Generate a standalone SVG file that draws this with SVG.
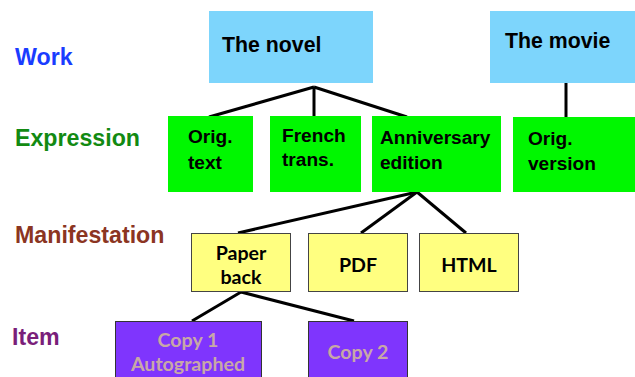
<svg xmlns="http://www.w3.org/2000/svg" width="635" height="377" viewBox="0 0 635 377">
<style>
.lvl{font-family:"Liberation Sans",Arial,sans-serif;font-weight:bold;font-size:23.2px}
.big{font-family:"Liberation Sans",Arial,sans-serif;font-weight:bold;font-size:21.3px;fill:#000}
.mid{font-family:"Liberation Sans",Arial,sans-serif;font-weight:bold;font-size:19.1px;fill:#000}
.cal{font-family:Lato,"Open Sans",sans-serif;font-weight:bold;font-size:19.6px;text-anchor:middle}
.work{fill:#7dd5fc}
.expr{fill:#00f700}
.man{fill:#ffff80;stroke:#444;stroke-width:1}
.item{fill:#7f35fd;stroke:#333;stroke-width:1}
.conn line{stroke:#000;stroke-width:3;stroke-linecap:butt}
</style>
<g id="labels">
<text class="lvl" x="15" y="65" fill="#1a3cff">Work</text>
<text class="lvl" x="15" y="146" fill="#128a12">Expression</text>
<text class="lvl" x="15" y="243" fill="#8b3522">Manifestation</text>
<text class="lvl" x="12" y="345" fill="#7a1e7a">Item</text>
</g>
<g class="conn" id="connectors">
<line x1="314" y1="87" x2="209" y2="117"/>
<line x1="314" y1="87" x2="314" y2="116"/>
<line x1="314" y1="87" x2="407" y2="117"/>
<line x1="566" y1="83" x2="566" y2="117"/>
<line x1="417" y1="192" x2="238" y2="233"/>
<line x1="417" y1="192" x2="361" y2="233"/>
<line x1="417" y1="192" x2="466" y2="233"/>
<line x1="241" y1="292" x2="192" y2="321"/>
<line x1="241" y1="292" x2="354" y2="321"/>
</g>
<g id="novel"><rect class="work" x="209" y="11" width="164" height="72"/><text class="big" x="222" y="52">The novel</text></g>
<g id="movie"><rect class="work" x="490" y="11" width="145" height="72"/><text class="big" x="505" y="48">The movie</text></g>
<g id="origtext"><rect class="expr" x="168" y="116" width="85" height="76"/><text class="mid" x="188" y="143">Orig.</text><text class="mid" x="188" y="169">text</text></g>
<g id="french"><rect class="expr" x="270" y="116" width="91" height="76"/><text class="mid" x="282" y="142">French</text><text class="mid" x="282" y="166">trans.</text></g>
<g id="anniv"><rect class="expr" x="372" y="116" width="129" height="76"/><text class="mid" x="380" y="144">Anniversary</text><text class="mid" x="380" y="169">edition</text></g>
<g id="origversion"><rect class="expr" x="513" y="117" width="122" height="75"/><text class="mid" x="528" y="145">Orig.</text><text class="mid" x="528" y="170">version</text></g>
<g id="paperback"><rect class="man" x="191.5" y="233.5" width="99" height="58"/><text class="cal" x="241" y="260" fill="#000">Paper</text><text class="cal" x="241" y="284" fill="#000">back</text></g>
<g id="pdf"><rect class="man" x="308.5" y="233.5" width="99" height="58"/><text class="cal" x="358" y="272" fill="#000">PDF</text></g>
<g id="html"><rect class="man" x="419.5" y="233.5" width="99" height="58"/><text class="cal" x="469" y="272" fill="#000">HTML</text></g>
<g id="copy1"><rect class="item" x="115.5" y="321.5" width="146" height="60"/><text class="cal" x="188" y="347" fill="#c8a8a6">Copy 1</text><text class="cal" x="188" y="371" fill="#c8a8a6">Autographed</text></g>
<g id="copy2"><rect class="item" x="308.5" y="321.5" width="99" height="60"/><text class="cal" x="358" y="359" fill="#c8a8a6">Copy 2</text></g>
</svg>
